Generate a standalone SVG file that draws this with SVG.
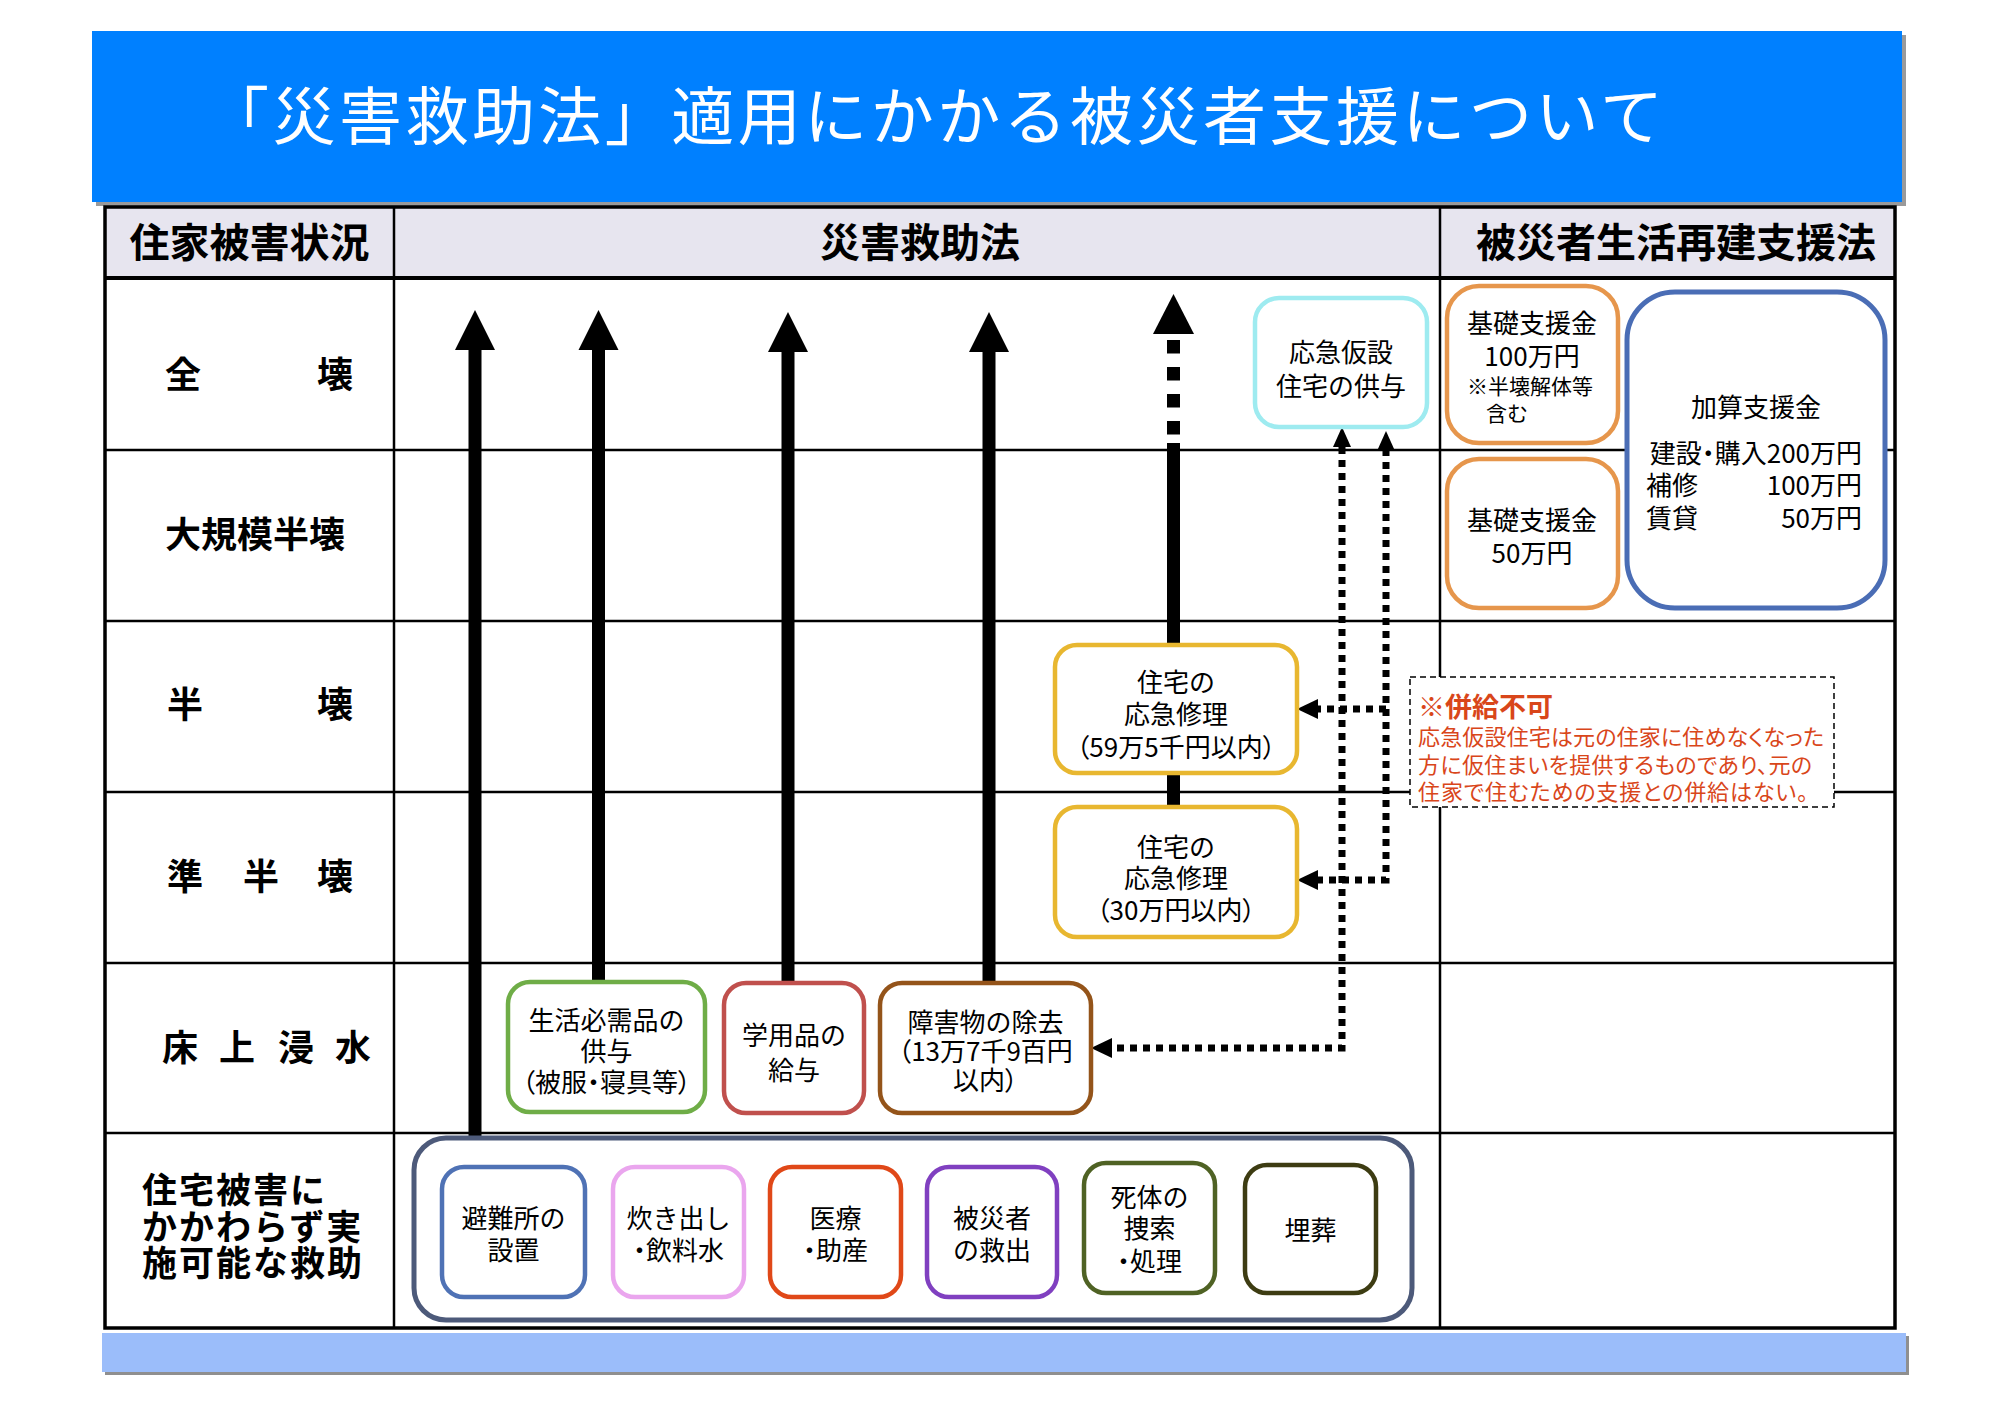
<svg xmlns="http://www.w3.org/2000/svg" width="2000" height="1414" viewBox="0 0 2000 1414">
<style>
text{font-family:"Noto Sans CJK JP","Noto Sans CJK SC",sans-serif;fill:#000}
.t{font-size:63px;fill:#fff}
.hd{font-size:40px;font-weight:bold;text-anchor:middle}
.lc{font-size:36px;font-weight:bold;text-anchor:middle}
.lc2{font-size:35px;font-weight:bold;letter-spacing:2px}
.bx{font-size:26px;text-anchor:middle}
.p{font-feature-settings:"palt"}
.sm{font-size:21px}
.nt{font-size:22px;fill:#D9461A;font-feature-settings:"palt"}
.nh{font-size:27px;font-weight:bold;fill:#D9461A}
.ln{stroke:#000;stroke-width:2.5;fill:none}
.node{fill:#fff;stroke-width:4.5}
.shaft{stroke:#000;stroke-width:13;fill:none}
.dot{stroke:#000;stroke-width:7;stroke-dasharray:7 6;fill:none}
</style>
<rect x="0" y="0" width="2000" height="1414" fill="#fff"/>
<g id="title">
<rect x="96" y="35" width="1810" height="171" fill="#9a9a9a"/>
<rect x="92" y="31" width="1810" height="171" fill="#0080FF"/>
<text class="t" x="206" y="139" textLength="1457" lengthAdjust="spacing">「災害救助法」適用にかかる被災者支援について</text>
</g>
<g id="table">
<rect x="105" y="207" width="1790" height="71" fill="#E7E5EF"/>
<line class="ln" x1="105" y1="278" x2="1895" y2="278" style="stroke-width:4"/>
<line class="ln" x1="105" y1="450" x2="1895" y2="450"/>
<line class="ln" x1="105" y1="621" x2="1895" y2="621"/>
<line class="ln" x1="105" y1="792" x2="1895" y2="792"/>
<line class="ln" x1="105" y1="963" x2="1895" y2="963"/>
<line class="ln" x1="105" y1="1133" x2="1895" y2="1133"/>
<line class="ln" x1="394" y1="207" x2="394" y2="1328"/>
<line class="ln" x1="1440" y1="207" x2="1440" y2="1328"/>
<rect x="105" y="207" width="1790" height="1121" fill="none" stroke="#000" stroke-width="3.5"/>
<text class="hd" x="249.5" y="257">住家被害状況</text>
<text class="hd" x="920" y="257">災害救助法</text>
<text class="hd" x="1676" y="257">被災者生活再建支援法</text>
<text class="lc" x="183 234 284 335" y="388">全　　壊</text>
<text class="lc" x="255" y="548">大規模半壊</text>
<text class="lc" x="185 235 285 335" y="718">半　　壊</text>
<text class="lc" x="185 222.5 261 298 335" y="890">準　半　壊</text>
<text class="lc" x="180 208.5 237 266.5 296 324.5 353" y="1061">床 上 浸 水</text>
<text class="lc2" x="142" y="1203">住宅被害に</text>
<text class="lc2" x="142" y="1240">かかわらず実</text>
<text class="lc2" x="142" y="1276">施可能な救助</text>
</g>
<g id="footer">
<rect x="105" y="1336" width="1804" height="39" fill="#8f8f8f"/>
<rect x="102" y="1333" width="1804" height="39" fill="#9BBDFA"/>
</g>
<g id="connectors">
<line class="shaft" x1="475" y1="1138" x2="475" y2="348"/>
<polygon points="475,310 455,350 495,350"/>
<line class="shaft" x1="598.5" y1="982" x2="598.5" y2="348"/>
<polygon points="598.5,310 578.5,350 618.5,350"/>
<line class="shaft" x1="788" y1="983" x2="788" y2="350"/>
<polygon points="788,312 768,352 808,352"/>
<line class="shaft" x1="989" y1="983" x2="989" y2="350"/>
<polygon points="989,312 969,352 1009,352"/>
<line class="shaft" x1="1173.5" y1="645" x2="1173.5" y2="443"/>
<line class="shaft" x1="1173.5" y1="340" x2="1173.5" y2="446" style="stroke-dasharray:13.5 13.5"/>
<polygon points="1173.5,294 1153,334 1194,334"/>
<line class="shaft" x1="1173.5" y1="773" x2="1173.5" y2="807"/>
<path class="dot" d="M1342,447 V1048 H1111"/>
<polygon points="1342,427 1333,447 1351,447"/>
<polygon points="1091,1048 1112,1038 1112,1058"/>
<path class="dot" d="M1386,449 V880 H1317"/>
<polygon points="1386,431 1377,451 1395,451"/>
<polygon points="1297,880 1318,870 1318,890"/>
<path class="dot" d="M1386,709 H1317"/>
<polygon points="1297,709 1318,699 1318,719"/>
</g>
<g id="node-kasetsu">
<rect class="node" x="1255" y="298" width="172" height="129" rx="24" stroke="#9EEBF0"/>
<text class="bx" x="1341" y="362">応急仮設</text>
<text class="bx" x="1341" y="396">住宅の供与</text>
</g>
<g id="node-kiso100">
<rect class="node" x="1447" y="286" width="171" height="157" rx="32" stroke="#E6964C"/>
<text class="bx" x="1532" y="333">基礎支援金</text>
<text class="bx" x="1532" y="366">100万円</text>
<text class="bx sm" x="1530" y="394">※半壊解体等</text>
<text class="sm" x="1486" y="421">含む</text>
</g>
<g id="node-kiso50">
<rect class="node" x="1447" y="459" width="171" height="149" rx="32" stroke="#E6964C"/>
<text class="bx" x="1532" y="530">基礎支援金</text>
<text class="bx" x="1532" y="563">50万円</text>
</g>
<g id="node-kasan">
<rect class="node" x="1627" y="292" width="258" height="316" rx="48" stroke="#4A6DB5" style="stroke-width:5"/>
<text class="bx" x="1756" y="417">加算支援金</text>
<text class="p" x="1862" y="463" font-size="26" text-anchor="end">建設・購入200万円</text>
<text x="1646" y="495" font-size="26">補修</text>
<text x="1862" y="495" font-size="26" text-anchor="end">100万円</text>
<text x="1646" y="528" font-size="26">賃貸</text>
<text x="1862" y="528" font-size="26" text-anchor="end">50万円</text>
</g>
<g id="node-repair1">
<rect class="node" x="1055" y="645" width="242" height="128" rx="22" stroke="#E8B730"/>
<text class="bx" x="1176" y="692">住宅の</text>
<text class="bx" x="1176" y="724">応急修理</text>
<text class="bx p" x="1176" y="757">（59万5千円以内）</text>
</g>
<g id="node-repair2">
<rect class="node" x="1055" y="807" width="242" height="130" rx="22" stroke="#E8B730"/>
<text class="bx" x="1176" y="857">住宅の</text>
<text class="bx" x="1176" y="888">応急修理</text>
<text class="bx p" x="1176" y="920">（30万円以内）</text>
</g>
<g id="node-note">
<rect x="1410" y="677" width="424" height="130" fill="#fff" stroke="#000" stroke-width="1.5" stroke-dasharray="6 4"/>
<text class="nh" x="1418" y="717">※併給不可</text>
<text class="nt" x="1418" y="745" textLength="406" lengthAdjust="spacing">応急仮設住宅は元の住家に住めなくなった</text>
<text class="nt" x="1418" y="773" textLength="394" lengthAdjust="spacing">方に仮住まいを提供するものであり、元の</text>
<text class="nt" x="1418" y="800" textLength="390" lengthAdjust="spacing">住家で住むための支援との併給はない。</text>
</g>
<g id="node-seikatsu">
<rect class="node" x="508" y="982" width="197" height="130" rx="22" stroke="#6FAD47"/>
<text class="bx" x="606.5" y="1030">生活必需品の</text>
<text class="bx" x="606.5" y="1061">供与</text>
<text class="bx p" x="606.5" y="1092">（被服・寝具等）</text>
</g>
<g id="node-gakuyo">
<rect class="node" x="724" y="983" width="140" height="130" rx="22" stroke="#C0504D"/>
<text class="bx" x="794" y="1045">学用品の</text>
<text class="bx" x="794" y="1080">給与</text>
</g>
<g id="node-shogai">
<rect class="node" x="880" y="983" width="211" height="130" rx="22" stroke="#94541A"/>
<text class="bx" x="985.5" y="1032">障害物の除去</text>
<text class="bx p" x="985.5" y="1061">（13万7千9百円</text>
<text class="bx p" x="985.5" y="1090">以内）</text>
</g>
<g id="node-always">
<rect class="node" x="414" y="1138" width="998" height="182" rx="32" stroke="#4D5A7A" style="stroke-width:5"/>
</g>
<g id="node-hinan">
<rect class="node" x="442" y="1167" width="143" height="130" rx="22" stroke="#4F72B5"/>
<text class="bx" x="513.5" y="1228">避難所の</text>
<text class="bx" x="513.5" y="1260">設置</text>
</g>
<g id="node-takidashi">
<rect class="node" x="613" y="1167" width="131" height="130" rx="22" stroke="#EAA6EE"/>
<text class="bx" x="678.5" y="1228">炊き出し</text>
<text class="bx p" x="678.5" y="1260">・飲料水</text>
</g>
<g id="node-iryo">
<rect class="node" x="770" y="1167" width="131" height="130" rx="22" stroke="#E04818"/>
<text class="bx" x="835.5" y="1228">医療</text>
<text class="bx p" x="835.5" y="1260">・助産</text>
</g>
<g id="node-kyushutsu">
<rect class="node" x="927" y="1167" width="130" height="130" rx="22" stroke="#8040C0"/>
<text class="bx" x="992" y="1228">被災者</text>
<text class="bx" x="992" y="1260">の救出</text>
</g>
<g id="node-shitai">
<rect class="node" x="1084" y="1163" width="131" height="130" rx="22" stroke="#4F6224"/>
<text class="bx" x="1149.5" y="1207">死体の</text>
<text class="bx" x="1149.5" y="1238">捜索</text>
<text class="bx p" x="1149.5" y="1271">・処理</text>
</g>
<g id="node-maiso">
<rect class="node" x="1245" y="1165" width="131" height="128" rx="22" stroke="#3D3C12"/>
<text class="bx" x="1310.5" y="1240">埋葬</text>
</g>
</svg>
